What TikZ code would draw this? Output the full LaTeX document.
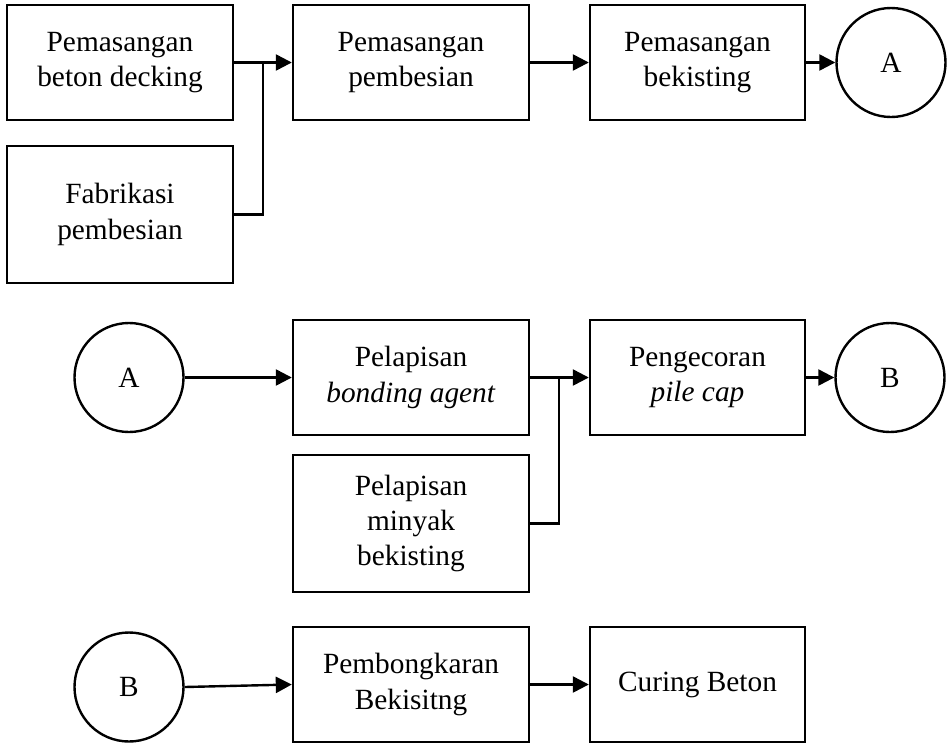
\documentclass[tikz,border=0pt]{standalone}
\usepackage{fontspec}
\setmainfont{Liberation Serif}
\usetikzlibrary{arrows.meta}
\begin{document}
\begin{tikzpicture}[x=0.75pt,y=-0.75pt,
  every node/.style={font=\fontsize{22}{26.5}\selectfont},
  box/.style={draw,line width=1.8pt,align=center,inner sep=0pt,minimum height=86.25pt},
  wide/.style={minimum width=177pt},
  mid/.style={minimum width=161.25pt},
  tall/.style={minimum height=102.75pt},
  conn/.style={draw,circle,line width=1.8pt,minimum size=81.75pt,inner sep=0pt},
  line/.style={line width=1.8pt},
  arr/.style={line width=1.8pt,-{Triangle[length=12pt,width=12pt]}}
]
\useasboundingbox (0,0) rectangle (949,743);
% row 1
\node[box,minimum width=169.5pt] (b1) at (120,62.5) {Pemasangan\\beton decking};
\node[box,tall,minimum width=169.5pt] (b2) at (120,214.5) {Fabrikasi\\pembesian};
\node[box,wide] (b3) at (411,62.5) {Pemasangan\\pembesian};
\node[box,mid] (b4) at (697.5,62.5) {Pemasangan\\bekisting};
\node[conn] (a1) at (891,62.5) {A};
\coordinate (j1) at (263,62.5);
\draw[arr] (b1.east) -- (b3.west);
\draw[line] (b2.east) -| (j1);
\draw[arr] (b3.east) -- (b4.west);
\draw[arr] (b4.east) -- (a1.west);
% row 2
\node[conn] (a2) at (129,377.5) {A};
\node[box,wide] (c1) at (411,377.5) {Pelapisan\\\textit{bonding agent}};
\node[box,wide,tall] (c2) at (411,523.5) {Pelapisan\\minyak\\bekisting};
\node[box,mid] (c3) at (697.5,377.5) {Pengecoran\\\textit{pile cap}};
\node[conn] (b5) at (890,377.5) {B};
\coordinate (j2) at (559,377.5);
\draw[arr] (a2.east) -- (c1.west);
\draw[arr] (c1.east) -- (c3.west);
\draw[line] (c2.east) -| (j2);
\draw[arr] (c3.east) -- (b5.west);
% row 3
\node[conn] (b6) at (129,687) {B};
\node[box,wide] (d1) at (411,684.5) {Pembongkaran\\Bekisitng};
\node[box,mid] (d2) at (697.5,684.5) {Curing Beton};
\draw[arr] (b6.east) -- (d1.west);
\draw[arr] (d1.east) -- (d2.west);
\end{tikzpicture}
\end{document}
